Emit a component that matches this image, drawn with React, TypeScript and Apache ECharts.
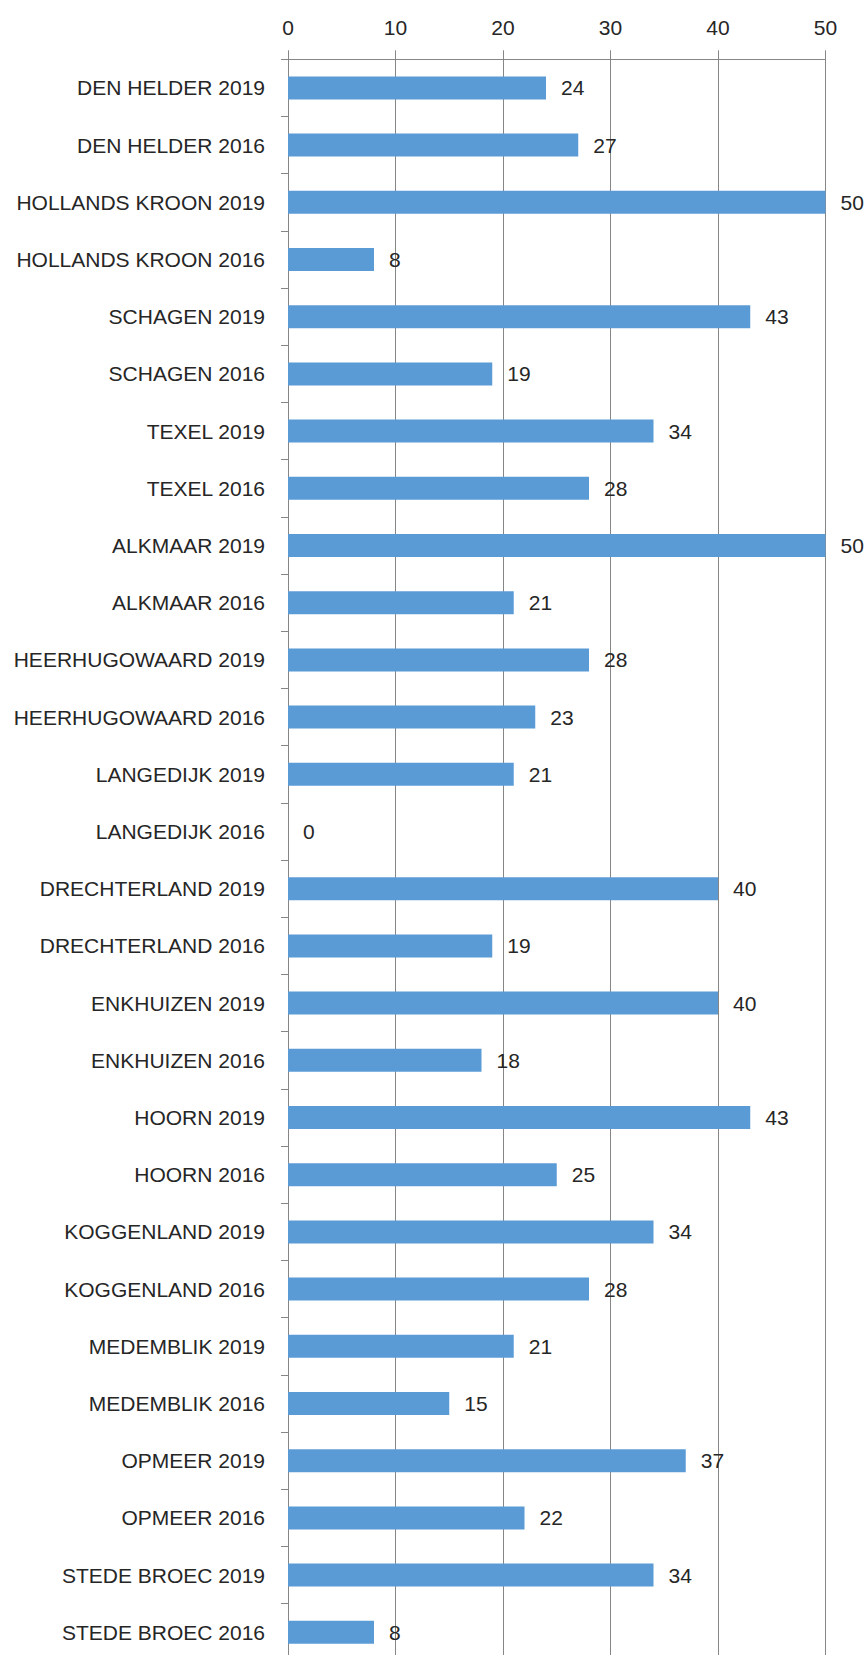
import React, { useEffect, useRef } from "react";
import * as echarts from "echarts";

const categories = [
  "DEN HELDER 2019", "DEN HELDER 2016",
  "HOLLANDS KROON 2019", "HOLLANDS KROON 2016",
  "SCHAGEN 2019", "SCHAGEN 2016",
  "TEXEL 2019", "TEXEL 2016",
  "ALKMAAR 2019", "ALKMAAR 2016",
  "HEERHUGOWAARD 2019", "HEERHUGOWAARD 2016",
  "LANGEDIJK 2019", "LANGEDIJK 2016",
  "DRECHTERLAND 2019", "DRECHTERLAND 2016",
  "ENKHUIZEN 2019", "ENKHUIZEN 2016",
  "HOORN 2019", "HOORN 2016",
  "KOGGENLAND 2019", "KOGGENLAND 2016",
  "MEDEMBLIK 2019", "MEDEMBLIK 2016",
  "OPMEER 2019", "OPMEER 2016",
  "STEDE BROEC 2019", "STEDE BROEC 2016",
];

const values = [
  24, 27, 50, 8, 43, 19, 34, 28, 50, 21, 28, 23, 21, 0,
  40, 19, 40, 18, 43, 25, 34, 28, 21, 15, 37, 22, 34, 8,
];

const axisMin = 0;
const axisMax = 50;
const axisInterval = 10;

const FONT = "'Liberation Sans', Arial, sans-serif";
const GRAY = "#868686";
const TEXT = "#262626";

export default function App() {
  const ref = useRef<HTMLDivElement>(null);

  useEffect(() => {
    document.documentElement.style.overflow = "hidden";
    document.body.style.overflow = "hidden";
    document.body.style.margin = "0";
    if (!ref.current) return;
    const chart = echarts.init(ref.current, undefined, { renderer: "svg" });
    chart.setOption({
      animation: false,
      backgroundColor: "#ffffff",
      grid: { left: 288, top: 59.3, width: 537.5, height: 1601.6, containLabel: false },
      xAxis: {
        type: "value",
        position: "top",
        min: axisMin,
        max: axisMax,
        interval: axisInterval,
        axisLine: { show: true, lineStyle: { color: GRAY, width: 1 } },
        axisTick: { show: true, length: 9, lineStyle: { color: GRAY, width: 1 } },
        splitLine: { show: true, lineStyle: { color: GRAY, width: 1 } },
        axisLabel: { fontSize: 21, color: TEXT, fontFamily: FONT, margin: 21 },
      },
      yAxis: {
        type: "category",
        inverse: true,
        data: categories,
        axisLine: { show: true, lineStyle: { color: GRAY, width: 1 } },
        axisTick: { show: true, length: 7, lineStyle: { color: GRAY, width: 1 } },
        axisLabel: { fontSize: 21, color: TEXT, fontFamily: FONT, margin: 23 },
      },
      series: [
        {
          type: "bar",
          data: values,
          barWidth: 23,
          itemStyle: { color: "#5B9BD5" },
          label: {
            show: true,
            position: "right",
            distance: 15,
            fontSize: 21,
            color: TEXT,
            fontFamily: FONT,
          },
        },
      ],
    });
    return () => chart.dispose();
  }, []);

  return (
    <div
      ref={ref}
      style={{ width: 868, height: 1700, background: "#fff" }}
    />
  );
}
